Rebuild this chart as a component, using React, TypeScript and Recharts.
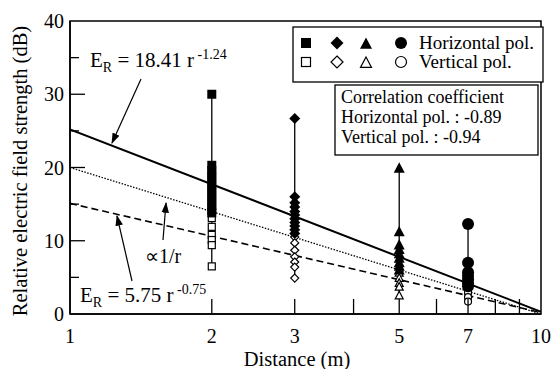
import React from 'react';
import { ComposedChart, XAxis, YAxis, Scatter, Line, ReferenceArea } from 'recharts';

// axis ticks
const X_TICKS = [1, 2, 3, 4, 5, 6, 7, 8, 9, 10];
const X_LABELS = [1, 2, 3, 5, 7, 10];
const Y_TICKS = [0, 5, 10, 15, 20, 25, 30, 35, 40];
const Y_LABELS = [0, 10, 20, 30, 40];

// measured field strength (dB), horizontal pol. (filled) / vertical pol. (open)
const H_2M = [30.0, 20.3, 19.6, 19.0, 18.4, 17.8, 17.2, 16.6, 16.0, 15.4, 14.8, 14.2, 13.8];
const V_2M = [13.1, 11.9, 10.8, 10.1, 9.4, 6.5];
const H_3M = [26.7, 16.0, 15.2, 14.6, 14.0, 13.5, 13.0, 12.5, 12.0, 11.5, 11.0];
const V_3M = [10.5, 9.7, 8.7, 7.8, 7.1, 6.4, 4.9];
const H_5M = [19.9, 11.2, 9.4, 8.8, 8.2, 7.6, 7.0, 6.5, 6.0];
const V_5M = [5.6, 4.9, 4.2, 3.7, 2.5];
const H_7M = [12.3, 7.0, 5.7, 5.2, 4.7, 4.2, 3.8];
const V_7M = [3.4, 2.9, 2.3, 1.7];

// regression lines, end points at r = 1 and r = 10
const FIT_R = [1, 10];
const FIT_18_41 = [25.2, 0.3];
const FIT_INV_R = [20.0, 0.0];
const FIT_5_75 = [15.1, 0.2];

const FONT = '"Liberation Serif", "Times New Roman", serif';

const pts = (x: number, ys: number[]) => ys.map((y) => ({ x, y }));
const fit = (ys: number[]) => FIT_R.map((x, i) => ({ x, y: ys[i] }));
const range = (x: number, a: number[], b: number[]) => {
  const all = [...a, ...b];
  return [
    { x, y: Math.min(...all) },
    { x, y: Math.max(...all) },
  ];
};

type Kind = 'square' | 'diamond' | 'triangle' | 'circle';

const Marker = ({ cx, cy, kind, filled, s }: any) => {
  const fill = filled ? '#000' : '#fff';
  const sw = filled ? 0 : 1.2;
  if (cx == null || cy == null) return null;
  if (kind === 'square')
    return <rect x={cx - s / 2} y={cy - s / 2} width={s} height={s} fill={fill} stroke="#000" strokeWidth={sw} />;
  if (kind === 'diamond')
    return (
      <polygon
        points={`${cx},${cy - s / 2} ${cx + s / 2},${cy} ${cx},${cy + s / 2} ${cx - s / 2},${cy}`}
        fill={fill}
        stroke="#000"
        strokeWidth={sw}
      />
    );
  if (kind === 'triangle')
    return (
      <polygon
        points={`${cx},${cy - s * 0.55} ${cx + s / 2},${cy + s * 0.4} ${cx - s / 2},${cy + s * 0.4}`}
        fill={fill}
        stroke="#000"
        strokeWidth={sw}
      />
    );
  return <circle cx={cx} cy={cy} r={s / 2} fill={fill} stroke="#000" strokeWidth={sw} />;
};

const shape = (kind: Kind, filled: boolean, s: number) => (p: any) => (
  <Marker cx={p.cx} cy={p.cy} kind={kind} filled={filled} s={s} />
);

const XTick = ({ x, y, payload }: any) => {
  const v = payload.value;
  return (
    <g>
      {v > 1 && v < 10 && <line x1={x} x2={x} y1={y} y2={y - 15} stroke="#000" strokeWidth={1.3} />}
      {X_LABELS.includes(v) && (
        <text x={x} y={y + 29} textAnchor="middle" fontFamily={FONT} fontSize={20} fill="#000">
          {v}
        </text>
      )}
    </g>
  );
};

const YTick = ({ x, y, payload }: any) => {
  const v = payload.value;
  const major = Y_LABELS.includes(v);
  return (
    <g>
      {v > 0 && v < 40 && (
        <line x1={x} x2={x + (major ? 15 : 9)} y1={y} y2={y} stroke="#000" strokeWidth={1.3} />
      )}
      {major && (
        <text x={x - 6} y={y} dy="0.35em" textAnchor="end" fontFamily={FONT} fontSize={20} fill="#000">
          {v}
        </text>
      )}
    </g>
  );
};

const Eq = ({ x, y, coef, exp }: { x: number; y: number; coef: string; exp: string }) => (
  <text x={x} y={y} fontFamily={FONT} fontSize={21} fill="#000">
    E
    <tspan fontSize={14} dy={5}>R</tspan>
    <tspan dy={-5}>{` = ${coef} r`}</tspan>
    <tspan fontSize={14} dy={-8}>{` ${exp}`}</tspan>
  </text>
);

const Overlay = () => (
  <svg
    width={553}
    height={369}
    style={{ position: 'absolute', left: 0, top: 0, pointerEvents: 'none' }}
  >
    <defs>
      <marker id="arr" viewBox="0 0 10 10" refX="9" refY="5" markerWidth="9" markerHeight="9" orient="auto">
        <path d="M0,1.5 L10,5 L0,8.5 z" fill="#000" />
      </marker>
    </defs>

    {/* axis titles */}
    <text
      x={0}
      y={0}
      transform="translate(27,171) rotate(-90)"
      textAnchor="middle"
      fontFamily={FONT}
      fontSize={20.5}
      fill="#000"
    >
      Relative electric field strength (dB)
    </text>
    <text x={297} y={366} textAnchor="middle" fontFamily={FONT} fontSize={20.5} fill="#000">
      Distance (m)
    </text>

    {/* annotations */}
    <Eq x={90} y={67} coef="18.41" exp="-1.24" />
    <line x1={141} y1={79} x2={112} y2={143} stroke="#000" strokeWidth={1.2} markerEnd="url(#arr)" />
    <text x={145} y={263} fontFamily={FONT} fontSize={20} fill="#000">
      ∝1/r
    </text>
    <line x1={163} y1={240} x2={166} y2={203} stroke="#000" strokeWidth={1.2} markerEnd="url(#arr)" />
    <Eq x={80} y={302} coef="5.75" exp="-0.75" />
    <line x1={132} y1={281} x2={117} y2={216} stroke="#000" strokeWidth={1.2} markerEnd="url(#arr)" />

    {/* legend */}
    <rect x={293} y={27} width={250} height={55} fill="#fff" stroke="#000" strokeWidth={1.3} />
    <Marker cx={306} cy={43} kind="square" filled s={10} />
    <Marker cx={337} cy={43} kind="diamond" filled s={13} />
    <Marker cx={366} cy={44} kind="triangle" filled s={12} />
    <Marker cx={401} cy={43} kind="circle" filled s={12} />
    <text x={419} y={49} fontFamily={FONT} fontSize={19} fill="#000">
      Horizontal pol.
    </text>
    <Marker cx={306} cy={62} kind="square" s={9} />
    <Marker cx={337} cy={62} kind="diamond" s={12} />
    <Marker cx={366} cy={63} kind="triangle" s={11} />
    <Marker cx={401} cy={62} kind="circle" s={11} />
    <text x={419} y={68} fontFamily={FONT} fontSize={19} fill="#000">
      Vertical pol.
    </text>

    <rect x={335} y={85} width={203} height={70} fill="#fff" stroke="#000" strokeWidth={1.3} />
    <text fontFamily={FONT} fontSize={18} fill="#000">
      <tspan x={341} y={103}>Correlation coefficient</tspan>
      <tspan x={341} y={123}>Horizontal pol. : -0.89</tspan>
      <tspan x={341} y={143}>Vertical pol. : -0.94</tspan>
    </text>
  </svg>
);

export default function App() {
  return (
    <div style={{ position: 'absolute', left: 0, top: 0, width: 553, height: 369, background: '#fff' }}>
      <ComposedChart width={553} height={369} margin={{ top: 21, right: 12, bottom: 0, left: 0 }}>
        <XAxis
          dataKey="x"
          type="number"
          scale="log"
          domain={[1, 10]}
          ticks={X_TICKS}
          interval={0}
          allowDataOverflow
          height={55}
          tickSize={0}
          tickMargin={0}
          tickLine={false}
          tick={<XTick />}
          axisLine={{ stroke: '#000', strokeWidth: 1.5 }}
        />
        <YAxis
          type="number"
          domain={[0, 40]}
          ticks={Y_TICKS}
          interval={0}
          width={70}
          tickSize={0}
          tickMargin={0}
          tickLine={false}
          tick={<YTick />}
          axisLine={{ stroke: '#000', strokeWidth: 1.5 }}
        />
        <ReferenceArea x1={1} x2={10} y1={0} y2={40} fill="none" stroke="#000" strokeWidth={1.5} />

        <Line data={fit(FIT_18_41)} dataKey="y" stroke="#000" strokeWidth={2} dot={false} isAnimationActive={false} />
        <Line data={fit(FIT_INV_R)} dataKey="y" stroke="#000" strokeWidth={1.3} strokeDasharray="1.5 1.5" dot={false} isAnimationActive={false} />
        <Line data={fit(FIT_5_75)} dataKey="y" stroke="#000" strokeWidth={1.6} strokeDasharray="7 4" dot={false} isAnimationActive={false} />

        <Line data={range(2, H_2M, V_2M)} dataKey="y" stroke="#000" strokeWidth={1.3} dot={false} isAnimationActive={false} />
        <Line data={range(3, H_3M, V_3M)} dataKey="y" stroke="#000" strokeWidth={1.3} dot={false} isAnimationActive={false} />
        <Line data={range(5, H_5M, V_5M)} dataKey="y" stroke="#000" strokeWidth={1.3} dot={false} isAnimationActive={false} />
        <Line data={range(7, H_7M, V_7M)} dataKey="y" stroke="#000" strokeWidth={1.3} dot={false} isAnimationActive={false} />

        <Scatter data={pts(2, V_2M)} dataKey="y" shape={shape('square', false, 7)} isAnimationActive={false} />
        <Scatter data={pts(2, H_2M)} dataKey="y" shape={shape('square', true, 9)} isAnimationActive={false} />
        <Scatter data={pts(3, V_3M)} dataKey="y" shape={shape('diamond', false, 8)} isAnimationActive={false} />
        <Scatter data={pts(3, H_3M)} dataKey="y" shape={shape('diamond', true, 11)} isAnimationActive={false} />
        <Scatter data={pts(5, V_5M)} dataKey="y" shape={shape('triangle', false, 8)} isAnimationActive={false} />
        <Scatter data={pts(5, H_5M)} dataKey="y" shape={shape('triangle', true, 11)} isAnimationActive={false} />
        <Scatter data={pts(7, V_7M)} dataKey="y" shape={shape('circle', false, 7)} isAnimationActive={false} />
        <Scatter data={pts(7, H_7M)} dataKey="y" shape={shape('circle', true, 12)} isAnimationActive={false} />
      </ComposedChart>
      <Overlay />
    </div>
  );
}
